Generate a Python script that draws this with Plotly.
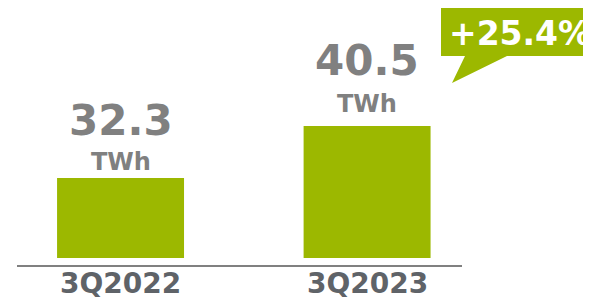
import plotly.graph_objects as go

categories = ["3Q2022", "3Q2023"]
values = [32.3, 40.5]
unit = "TWh"
change_label = "+25.4%"

GREEN = "#9cb800"
VAL_GREY = "#808080"
CAT_GREY = "#5f6368"
FONT = "DejaVu Sans"

# page body has an 8px margin: figure drawn at (8, 8) in the window
OFF = 8
W, H = 591 - OFF, 298 - OFF
ML, MR, MT, MB = 17 - OFF, 129, 0, 33
plot_w = W - ML - MR
plot_h = H - MT - MB
AXIS_Y = 265  # window px of axis line


def px(x):
    return (x - 17) / plot_w


def py(y):
    return (AXIS_Y - y) / plot_h


fig = go.Figure()
fig.add_trace(go.Bar(
    x=categories, y=[v - 19.7 for v in values], base=19.7,
    marker=dict(color=GREEN, line=dict(width=0)),
    width=0.515, hoverinfo="skip",
))

value_shift = [58, 66]
unit_shift = [16, 22]
annotations = []
for i, (c, v) in enumerate(zip(categories, values)):
    annotations.append(dict(x=c, y=v, xref="x", yref="y", text=f"<b>{v:.1f}</b>",
                            showarrow=False, yanchor="middle", yshift=value_shift[i],
                            font=dict(family=FONT, size=42, color=VAL_GREY)))
    annotations.append(dict(x=c, y=v, xref="x", yref="y", text=f"<b>{unit}</b>",
                            showarrow=False, yanchor="middle", yshift=unit_shift[i],
                            font=dict(family=FONT, size=24, color=VAL_GREY)))
    # category labels
    annotations.append(dict(x=c, y=py(283), xref="x", yref="paper", text=f"<b>{c}</b>",
                            showarrow=False, yanchor="middle", height=28, valign="middle",
                            font=dict(family=FONT, size=28, color=CAT_GREY)))

annotations.append(dict(x=px(447), y=py(34), xref="paper", yref="paper",
                        text=f"<b>{change_label}</b>", showarrow=False,
                        xanchor="left", yanchor="middle",
                        font=dict(family=FONT, size=33, color="white")))

shapes = [
    dict(type="path", xref="paper", yref="paper",
         path=(f"M {px(441)} {py(7)} L {px(610)} {py(7)} L {px(610)} {py(56)} "
               f"L {px(507)} {py(56)} L {px(452)} {py(83)} L {px(465)} {py(56)} "
               f"L {px(441)} {py(56)} Z"),
         fillcolor=GREEN, line=dict(width=0), layer="above"),
]

ymin = 18.58
ppu = 6.34
fig.update_layout(
    width=W, height=H,
    margin=dict(l=ML, r=MR, t=MT, b=MB, pad=0, autoexpand=False),
    paper_bgcolor="white", plot_bgcolor="white",
    showlegend=False,
    annotations=annotations, shapes=shapes,
    xaxis=dict(range=[-0.42, 1.385], showline=True, linecolor=VAL_GREY, linewidth=2,
               showgrid=False, zeroline=False, ticks="", fixedrange=True, automargin=False,
               showticklabels=False),
    yaxis=dict(range=[ymin, ymin + plot_h / ppu], visible=False, fixedrange=True,
               automargin=False),
)

fig.write_html("out.html")
